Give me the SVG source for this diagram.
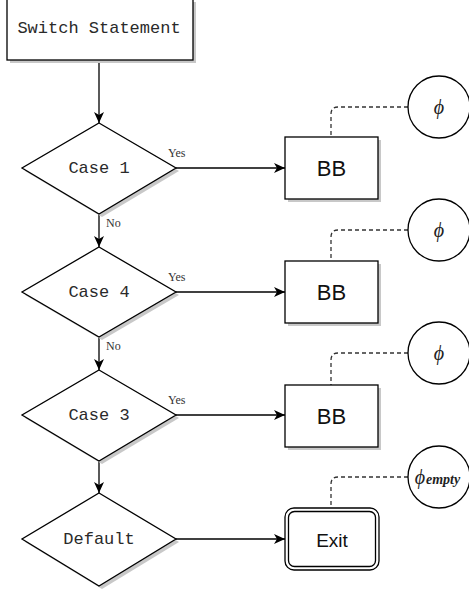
<svg xmlns="http://www.w3.org/2000/svg" width="469" height="592" viewBox="0 0 469 592">
<style>
.shape{fill:#fff;stroke:#000;stroke-width:1.3}
.shadow{fill:#c8c8c8;stroke:none}
.mono{font-family:"Liberation Mono","DejaVu Sans Mono",monospace;font-size:17px;fill:#2a2a2a;text-anchor:middle;dominant-baseline:central}
.sans{font-family:"Liberation Sans",Arial,sans-serif;fill:#111;text-anchor:middle;dominant-baseline:central}
.lbl{font-family:"Liberation Serif","Times New Roman",serif;font-size:12px;fill:#333}
.phi{font-family:"Liberation Serif","Times New Roman",serif;font-style:italic;font-size:20px;fill:#222;text-anchor:middle;dominant-baseline:central}
.edge{fill:none;stroke:#000;stroke-width:1.3}
.dash{fill:none;stroke:#333;stroke-width:1.3;stroke-dasharray:4 3}
.circ{fill:#fff;stroke:#000;stroke-width:1.3}
</style>
<defs>
<marker id="arr" viewBox="0 0 11 10" refX="11" refY="5" markerWidth="11" markerHeight="10" markerUnits="userSpaceOnUse" orient="auto">
<path d="M0,0 L11,5 L0,10 L3,5 Z" fill="#000"/>
</marker>
</defs>
<g id="connectors">
<path class="edge" d="M99,61 V123" marker-end="url(#arr)"/>
<path class="edge" d="M99,214 V247" marker-end="url(#arr)"/>
<path class="edge" d="M99,338 V370" marker-end="url(#arr)"/>
<path class="edge" d="M99,461 V493" marker-end="url(#arr)"/>
<path class="edge" d="M176,168 H285" marker-end="url(#arr)"/>
<path class="edge" d="M176,292 H285" marker-end="url(#arr)"/>
<path class="edge" d="M176,415 H285" marker-end="url(#arr)"/>
<path class="edge" d="M176,539 H285" marker-end="url(#arr)"/>
<path class="dash" d="M408,107 H338 Q331,107 331,114 V137"/>
<path class="dash" d="M408,230 H338 Q331,230 331,237 V261"/>
<path class="dash" d="M408,353 H338 Q331,353 331,360 V385"/>
<path class="dash" d="M408,477 H338 Q331,477 331,484 V508"/>
<text class="lbl" x="168" y="157">Yes</text>
<text class="lbl" x="168" y="281">Yes</text>
<text class="lbl" x="168" y="404">Yes</text>
<text class="lbl" x="106" y="227">No</text>
<text class="lbl" x="106" y="350">No</text>
</g>
<g id="switch">
<rect class="shadow" x="10" y="2" width="186" height="61"/>
<rect class="shape" x="7" y="-1" width="186" height="61"/>
<text class="mono" x="99" y="28">Switch Statement</text>
</g>
<g id="case1">
<polygon class="shadow" points="102,126 179,171 102,217 25,171"/>
<polygon class="shape" points="99,123 176,168 99,214 22,168"/>
<text class="mono" x="99" y="168">Case 1</text>
</g>
<g id="case4">
<polygon class="shadow" points="102,250 179,295 102,340 25,295"/>
<polygon class="shape" points="99,247 176,292 99,337 22,292"/>
<text class="mono" x="99" y="292">Case 4</text>
</g>
<g id="case3">
<polygon class="shadow" points="102,373 179,418 102,464 25,418"/>
<polygon class="shape" points="99,370 176,415 99,461 22,415"/>
<text class="mono" x="99" y="415">Case 3</text>
</g>
<g id="default">
<polygon class="shadow" points="102,496 179,542 102,589 25,542"/>
<polygon class="shape" points="99,493 176,539 99,586 22,539"/>
<text class="mono" x="99" y="539">Default</text>
</g>
<g id="bb1">
<rect class="shadow" x="288" y="140" width="93" height="62"/>
<rect class="shape" x="285" y="137" width="93" height="62"/>
<text class="sans" x="331.5" y="168" font-size="22">BB</text>
</g>
<g id="bb2">
<rect class="shadow" x="288" y="264" width="93" height="62"/>
<rect class="shape" x="285" y="261" width="93" height="62"/>
<text class="sans" x="331.5" y="292" font-size="22">BB</text>
</g>
<g id="bb3">
<rect class="shadow" x="288" y="388" width="93" height="62"/>
<rect class="shape" x="285" y="385" width="93" height="62"/>
<text class="sans" x="331.5" y="416" font-size="22">BB</text>
</g>
<g id="exit">
<rect class="shape" x="285" y="508" width="94" height="62" rx="9"/>
<rect class="shape" x="288.5" y="511.5" width="87" height="55" rx="6"/>
<text class="sans" x="332" y="540" font-size="19">Exit</text>
</g>
<g id="phi1">
<circle class="circ" cx="439" cy="107" r="31"/>
<text class="phi" x="439" y="107">ϕ</text>
</g>
<g id="phi2">
<circle class="circ" cx="439" cy="230" r="31"/>
<text class="phi" x="439" y="230">ϕ</text>
</g>
<g id="phi3">
<circle class="circ" cx="439" cy="353" r="31"/>
<text class="phi" x="439" y="353">ϕ</text>
</g>
<g id="phi4">
<circle class="circ" cx="439" cy="477" r="31"/>
<text class="phi" x="420" y="477">ϕ</text>
<text x="426" y="484" font-family="'Liberation Serif','Times New Roman',serif" font-style="italic" font-weight="bold" font-size="14" fill="#222">empty</text>
</g>
</svg>
